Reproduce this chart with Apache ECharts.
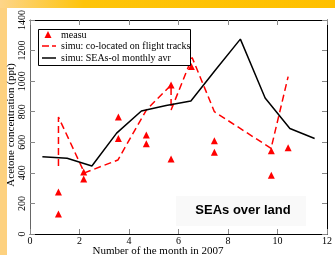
<!DOCTYPE html>
<html>
<head>
<meta charset="utf-8">
<script src="https://cdn.jsdelivr.net/npm/echarts@6/dist/echarts.min.js"></script>
<style>
html,body{margin:0;padding:0;background:#fff;}
#c{width:335px;height:255px;}
</style>
</head>
<body>
<div id="c"></div>
<script>
// Measured acetone (triangles)
var measX = [1.15, 1.15, 2.17, 2.17, 3.57, 3.57, 4.7, 4.7, 5.7, 5.7, 6.52, 7.45, 7.45, 9.75, 9.75, 10.43];
var measY = [275, 131, 405, 360, 765, 625, 647, 590, 975, 490, 1095, 610, 535, 545, 385, 565];
// Simulation co-located on flight tracks (dashed red)
var simX = [1.15, 1.15, 2.2, 3.55, 4.7, 5.7, 5.7, 6.55, 7.45, 9.74, 10.43];
var simY = [445, 765, 400, 484, 811, 975, 811, 1155, 800, 560, 1030];
// Simulation SEAs-ol monthly average (black)
var avgX = [0.5, 1.5, 2.5, 3.5, 4.5, 5.5, 6.5, 7.5, 8.5, 9.5, 10.5, 11.5];
var avgY = [505, 495, 445, 660, 805, 840, 870, 1075, 1275, 890, 690, 625];
// Axis ticks
var xTicks = [0, 2, 4, 6, 8, 10, 12];
var yTicks = [0, 200, 400, 600, 800, 1000, 1200, 1400];
// Legend labels
var seriesNames = ['measu', 'simu: co-located on flight tracks', 'simu: SEAs-ol monthly avr'];

function pairs(xs, ys) { return xs.map(function (x, i) { return [x, ys[i]]; }); }

var serif = 'Liberation Serif';
var chart = echarts.init(document.getElementById('c'), null, {renderer: 'canvas'});
var tickStyle = {show: true, inside: true, length: 5, lineStyle: {color: '#888', width: 1}};
var legendFont = '10px "Liberation Serif"';
chart.setOption({
  animation: false,
  backgroundColor: '#fff',
  grid: {left: 30, top: 20, right: 0, bottom: 21},
  graphic: [
    {type: 'rect', z: -10, shape: {x: 0, y: 0, width: 7, height: 255}, style: {fill: '#fdd17f'}},
    {type: 'rect', z: -10, shape: {x: 0, y: 0, width: 335, height: 8},
      style: {fill: new echarts.graphic.LinearGradient(0, 0, 1, 0, [
        {offset: 0, color: '#fdd58a'}, {offset: 0.25, color: '#fec40a'}, {offset: 1, color: '#ffc000'}])}},
    {type: 'rect', z: -5, shape: {x: 176, y: 196, width: 130, height: 30}, style: {fill: '#f9f9f9'}},
    {type: 'text', z: 10, x: 243, y: 210, style: {text: 'SEAs over land', font: 'bold 13px "Liberation Sans"', fill: '#000', align: 'center', verticalAlign: 'middle'}},
    {type: 'text', z: 10, x: 158, y: 251, style: {text: 'Number of the month in 2007', font: '11px "Liberation Serif"', fill: '#000', align: 'center', verticalAlign: 'middle'}},
    {type: 'text', z: 10, x: 11, y: 125, rotation: Math.PI / 2, style: {text: 'Acetone concentration (ppt)', font: '11px "Liberation Serif"', fill: '#000', align: 'center', verticalAlign: 'middle'}},
    // legend box
    {type: 'rect', z: 20, shape: {x: 38.5, y: 29.5, width: 152, height: 36}, style: {fill: '#fff', stroke: '#000', lineWidth: 1}},
    {type: 'polygon', z: 21, shape: {points: [[48, 31], [44.5, 38], [51.5, 38]]}, style: {fill: '#ff0000'}},
    {type: 'line', z: 21, shape: {x1: 42, y1: 46, x2: 56, y2: 46}, style: {stroke: '#ff0000', lineWidth: 1.5, lineDash: [7, 3]}},
    {type: 'line', z: 21, shape: {x1: 42, y1: 58, x2: 56, y2: 58}, style: {stroke: '#000', lineWidth: 1.5}},
    {type: 'text', z: 21, x: 61, y: 35, style: {text: seriesNames[0], font: legendFont, fill: '#000', verticalAlign: 'middle'}},
    {type: 'text', z: 21, x: 61, y: 46, style: {text: seriesNames[1], font: legendFont, fill: '#000', verticalAlign: 'middle'}},
    {type: 'text', z: 21, x: 61, y: 58, style: {text: seriesNames[2], font: legendFont, fill: '#000', verticalAlign: 'middle'}}
  ],
  xAxis: [{
    type: 'value', min: 0, max: 12, interval: 2,
    axisLine: {show: true, onZero: false, lineStyle: {color: '#000', width: 1}},
    axisTick: tickStyle,
    axisLabel: {fontFamily: serif, fontSize: 10, color: '#000', margin: 2,
      formatter: function (v) { return xTicks.indexOf(v) >= 0 ? String(v) : ''; }},
    splitLine: {show: false}
  }, {
    type: 'value', position: 'top', min: 0, max: 12, interval: 2,
    axisLine: {show: true, onZero: false, lineStyle: {color: '#000', width: 1}},
    axisTick: tickStyle, axisLabel: {show: false}, splitLine: {show: false}
  }],
  yAxis: [{
    type: 'value', min: 0, max: 1400, interval: 200,
    axisLine: {show: true, onZero: false, lineStyle: {color: '#666', width: 1}},
    axisTick: tickStyle,
    axisLabel: {fontFamily: serif, fontSize: 10, color: '#000', rotate: 90, margin: 3,
      formatter: function (v) { return yTicks.indexOf(v) >= 0 ? String(v) : ''; }},
    splitLine: {show: false}
  }, {
    type: 'value', position: 'right', min: 0, max: 1400, interval: 200,
    axisLine: {show: true, onZero: false, lineStyle: {color: '#000', width: 1}},
    axisTick: tickStyle, axisLabel: {show: false}, splitLine: {show: false}
  }],
  series: [{
    name: seriesNames[0], type: 'scatter', symbol: 'triangle', symbolSize: [7, 7],
    itemStyle: {color: '#ff0000', opacity: 1}, data: pairs(measX, measY), z: 3
  }, {
    name: seriesNames[1], type: 'line', symbol: 'none', showSymbol: false,
    lineStyle: {color: '#ff0000', width: 1.5, type: [7, 4]}, itemStyle: {color: '#ff0000'},
    data: pairs(simX, simY), z: 2
  }, {
    name: seriesNames[2], type: 'line', symbol: 'none', showSymbol: false,
    lineStyle: {color: '#000', width: 1.5}, itemStyle: {color: '#000'},
    data: pairs(avgX, avgY), z: 2
  }]
});
</script>
</body>
</html>
